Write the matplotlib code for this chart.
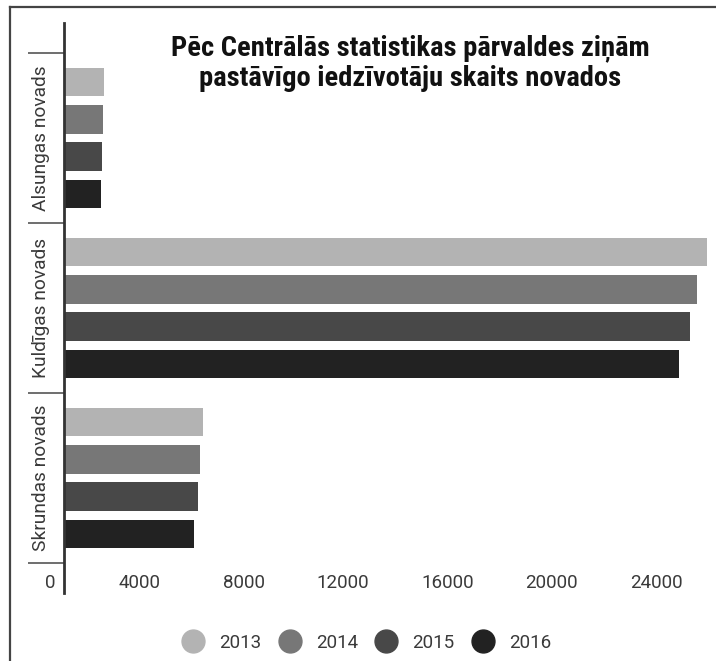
import numpy as np
import matplotlib
matplotlib.use("Agg")
import matplotlib.pyplot as plt
from matplotlib.lines import Line2D
from matplotlib.transforms import ScaledTranslation

# data
regions = ["Alsungas novads", "Kuldīgas novads", "Skrundas novads"]
years = ["2013", "2014", "2015", "2016"]
val_2013 = [1520, 24620, 5320]
val_2014 = [1500, 24270, 5220]
val_2015 = [1460, 24000, 5150]
val_2016 = [1410, 23580, 4970]
xticks = [0, 4000, 8000, 12000, 16000, 20000, 24000]

series = [val_2013, val_2014, val_2015, val_2016]
colors = ["#b3b3b3", "#777777", "#484848", "#222222"]

title = "Pēc Centrālās statistikas pārvaldes ziņām\npastāvīgo iedzīvotāju skaits novados"

plt.rcParams['font.family'] = ['Roboto', 'DejaVu Sans']

W, H = 716, 661
fig = plt.figure(figsize=(W / 100, H / 100), dpi=100)
fig.patch.set_facecolor("white")

# chart area in pixels: x 64..710, y 53..563
ax = fig.add_axes([64 / W, 1 - 563 / H, (710 - 64) / W, (563 - 53) / H])

pitch = 0.219
bar_h = 0.168
y = np.arange(len(regions))
for i, (vals, c) in enumerate(zip(series, colors)):
    ax.barh(y + (i - 1.5) * pitch, vals, height=bar_h, color=c, zorder=2)

ax.set_xlim(0, 24750)
ax.set_ylim(2.5, -0.5)

for s in ax.spines.values():
    s.set_visible(False)
# axis line runs a bit past the chart area
ext = 30 / 510
ax.axvline(0, ymin=-ext, ymax=1 + ext, color="#333333", lw=2, clip_on=False, zorder=3)

# x tick labels, right aligned a few pixels left of each value
ax.set_xticks(xticks)
ax.set_xticklabels([str(t) for t in xticks])
ax.tick_params(axis="x", length=0, pad=8, labelsize=13.5, labelcolor="#3a3a3a")
off = ScaledTranslation(-8 / 100, 0, fig.dpi_scale_trans)
for lab in ax.get_xticklabels():
    lab.set_ha("right")
    lab.set_transform(lab.get_transform() + off)

# group separator ticks and rotated category names
ax.set_yticks([-0.5, 0.5, 1.5, 2.5])
ax.set_yticklabels([])
ax.tick_params(axis="y", which="major", length=26, width=1.2, color="#555555")
ax.set_yticks(y, minor=True)
ax.set_yticklabels(regions, minor=True, rotation=90, va="center", ha="right")
ax.tick_params(axis="y", which="minor", length=0, pad=10, labelsize=13.8, labelcolor="#3a3a3a")

fig.text(410 / W, 1 - 63 / H, title, ha="center", va="center", fontsize=20.5,
         fontweight="bold", linespacing=1.12,
         family=["Roboto Condensed", "DejaVu Sans Condensed", "Roboto", "DejaVu Sans"],
         color="#111111")

handles = [Line2D([], [], ls="none", marker="o", markersize=16.5, markerfacecolor=c,
                  markeredgecolor=c) for c in colors]
fig.legend(handles, years, loc="center", bbox_to_anchor=(367 / W, 1 - 643 / H), ncol=4,
           frameon=False, fontsize=13.5, labelcolor="#3a3a3a", handlelength=1.1,
           handletextpad=0.85, columnspacing=0.95, borderpad=0)

# scanned page frame: top and left edges
fig.add_artist(Line2D([10 / W, 1], [1 - 6.5 / H, 1 - 6.5 / H], color="#444444", lw=1.6))
fig.add_artist(Line2D([10 / W, 10 / W], [0, 1 - 6.5 / H], color="#444444", lw=1.6))

fig.savefig("out.png", dpi=100)
